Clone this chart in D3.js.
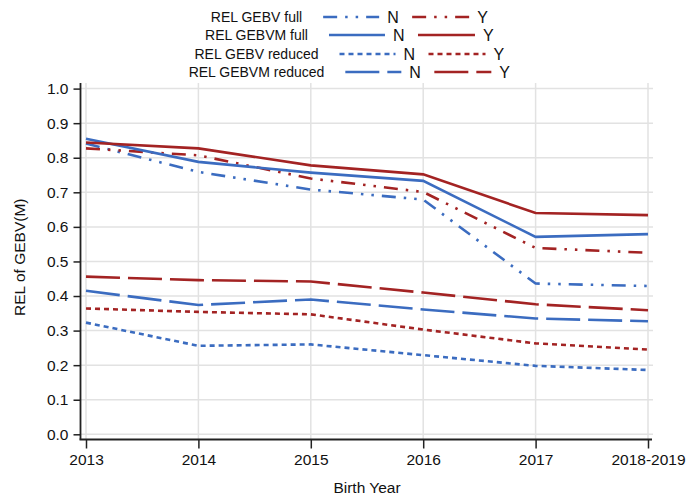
<!DOCTYPE html>
<meta charset="utf-8">
<style>
  body { margin: 0; background: #fff; }
  svg { display: block; font-family: "Liberation Sans", Arial, sans-serif; }
</style>
<body></body>
<script src="https://cdn.jsdelivr.net/npm/d3@7"></script>
<script>
  const width = 697
  const height = 495

  // birth year groups on the x axis
  const years = ["2013", "2014", "2015", "2016", "2017", "2018-2019"]
  const yTicks = [0, 0.1, 0.2, 0.3, 0.4, 0.5, 0.6, 0.7, 0.8, 0.9, 1.0]

  // reliabilities, N = not genotyped, Y = genotyped
  const gebvFullN = [0.841, 0.759, 0.708, 0.679, 0.436, 0.429]
  const gebvFullY = [0.827, 0.807, 0.740, 0.701, 0.539, 0.525]
  const gebvmFullN = [0.855, 0.788, 0.757, 0.733, 0.571, 0.579]
  const gebvmFullY = [0.844, 0.827, 0.778, 0.752, 0.640, 0.634]
  const gebvRedN = [0.323, 0.256, 0.260, 0.229, 0.198, 0.186]
  const gebvRedY = [0.364, 0.354, 0.347, 0.303, 0.263, 0.245]
  const gebvmRedN = [0.415, 0.374, 0.390, 0.361, 0.335, 0.327]
  const gebvmRedY = [0.456, 0.446, 0.442, 0.410, 0.376, 0.359]

  const groups = [
    { label: "REL GEBV full", dash: "14,8,2.5,8,2.5,8", N: gebvFullN, Y: gebvFullY },
    { label: "REL GEBVM full", dash: null, N: gebvmFullN, Y: gebvmFullY },
    { label: "REL GEBV reduced", dash: "5,4", N: gebvRedN, Y: gebvRedY },
    { label: "REL GEBVM reduced", dash: "34,8", N: gebvmRedN, Y: gebvmRedY }
  ]

  const colors = { N: "#3b6cc0", Y: "#a32323" }
  const textColor = "#111"

  const svg = d3.select("body")
    .append("svg")
    .attr("width", width)
    .attr("height", height)

  const x = d3.scalePoint()
    .domain(years)
    .range([86, 648])

  const y = d3.scaleLinear()
    .domain([0, 1])
    .range([434.3, 88.6])

  const plotLeft = 80.5
  const plotRight = 653
  const plotTop = 83
  const axisY = 439.5

  // grid
  const grid = svg.append("g")
    .attr("stroke", "#e2e2e2")
    .attr("stroke-width", 1.5)

  grid.selectAll("line.h")
    .data(yTicks)
    .enter()
    .append("line")
    .attr("x1", plotLeft)
    .attr("x2", plotRight)
    .attr("y1", d => y(d))
    .attr("y2", d => y(d))

  grid.selectAll("line.v")
    .data(years)
    .enter()
    .append("line")
    .attr("x1", d => x(d))
    .attr("x2", d => x(d))
    .attr("y1", plotTop)
    .attr("y2", axisY)

  // axes
  const yAxis = d3.axisLeft(y)
    .tickValues(yTicks)
    .tickFormat(d3.format(".1f"))
    .tickSizeInner(7)
    .tickSizeOuter(0)
    .tickPadding(5)

  const yg = svg.append("g")
    .attr("transform", `translate(${plotLeft},0)`)
    .call(yAxis)
  yg.select(".domain").remove()
  yg.append("line")
    .attr("y1", plotTop)
    .attr("y2", axisY)
    .attr("stroke", "#222")
    .attr("stroke-width", 1.8)

  const xAxis = d3.axisBottom(x)
    .tickSizeInner(9)
    .tickSizeOuter(0)
    .tickPadding(5)

  const xg = svg.append("g")
    .attr("transform", `translate(0,${axisY})`)
    .call(xAxis)
  xg.select(".domain").remove()
  xg.append("line")
    .attr("x1", plotLeft - 1)
    .attr("x2", 652)
    .attr("stroke", "#222")
    .attr("stroke-width", 1.8)

  svg.selectAll(".tick line")
    .attr("stroke", "#222")
    .attr("stroke-width", 1.5)
  svg.selectAll(".tick text")
    .attr("fill", textColor)
    .attr("font-size", 15.5)
    .attr("font-family", "Liberation Sans, Arial, sans-serif")

  svg.append("text")
    .attr("transform", `translate(25,${(plotTop + axisY) / 2 - 4}) rotate(-90)`)
    .attr("text-anchor", "middle")
    .attr("fill", textColor)
    .attr("font-size", 15.5)
    .text("REL of GEBV(M)")

  svg.append("text")
    .attr("x", 367)
    .attr("y", 493)
    .attr("text-anchor", "middle")
    .attr("fill", textColor)
    .attr("font-size", 15.5)
    .text("Birth Year")

  // lines
  const line = d3.line()
    .x((d, i) => x(years[i]))
    .y(d => y(d))

  const series = groups.flatMap(g => ["N", "Y"].map(k => ({ values: g[k], dash: g.dash, color: colors[k] })))

  svg.append("g")
    .selectAll("path")
    .data(series)
    .enter()
    .append("path")
    .attr("d", d => line(d.values))
    .attr("fill", "none")
    .attr("stroke", d => d.color)
    .attr("stroke-width", 2.6)
    .attr("stroke-dasharray", d => d.dash)

  // legend, each row centred on the same x
  const legendCenter = 349
  const rowY = [17, 35, 54, 72]

  groups.forEach((g, i) => {
    const row = svg.append("g").attr("transform", `translate(0,${rowY[i]})`)
    const label = row.append("text")
      .attr("fill", textColor)
      .attr("font-size", 14)
      .attr("dy", "0.35em")
      .text(g.label)
    const labelW = label.node().getComputedTextLength()
    const nW = 12, yW = 10
    const total = labelW + 21 + 56 + 8 + nW + 13 + 57 + 8 + yW
    let cx = legendCenter - total / 2
    label.attr("x", cx)
    cx += labelW + 21
    row.append("line")
      .attr("x1", cx).attr("x2", cx + 56)
      .attr("stroke", colors.N).attr("stroke-width", 2.6)
      .attr("stroke-dasharray", g.dash)
    cx += 56 + 8
    row.append("text")
      .attr("x", cx).attr("dy", "0.35em")
      .attr("fill", textColor).attr("font-size", 16)
      .text("N")
    cx += nW + 13
    row.append("line")
      .attr("x1", cx).attr("x2", cx + 57)
      .attr("stroke", colors.Y).attr("stroke-width", 2.6)
      .attr("stroke-dasharray", g.dash)
    cx += 57 + 8
    row.append("text")
      .attr("x", cx).attr("dy", "0.35em")
      .attr("fill", textColor).attr("font-size", 16)
      .text("Y")
  })
</script>
